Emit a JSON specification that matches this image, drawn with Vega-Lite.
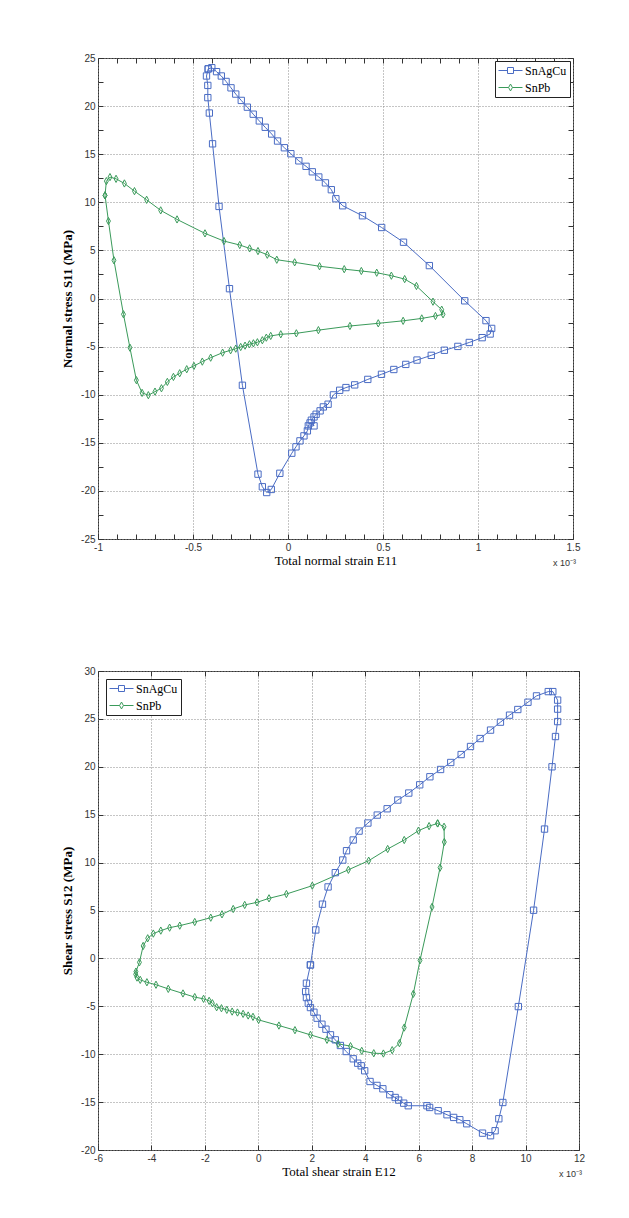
{
  "$schema": "https://vega.github.io/schema/vega-lite/v6.json",
  "background": "white",
  "padding": {"left": 61, "top": 52, "right": 5, "bottom": 5},
  "spacing": 96,
  "config": {
    "view": {"stroke": "#333", "strokeWidth": 1},
    "axis": {
      "labelFont": "Liberation Sans Narrow, Liberation Sans, sans-serif",
      "labelFontSize": 10,
      "labelColor": "#333",
      "labelFlush": false,
      "labelOverlap": false,
      "tickColor": "#333",
      "tickSize": -5,
      "tickWidth": 1,
      "domain": false,
      "titleFont": "Liberation Serif",
      "titleFontSize": 13,
      "titleColor": "black",
      "titleFontWeight": "normal",
      "gridColor": "#8a8a8a",
      "gridDash": [1, 2],
      "gridWidth": 1
    }
  },
  "datasets": {
    "normal": [
      {"s":"SnAgCu","i":1,"x":-0.420,"y":23.87},
      {"s":"SnAgCu","i":2,"x":-0.401,"y":23.99},
      {"s":"SnAgCu","i":3,"x":-0.376,"y":23.58},
      {"s":"SnAgCu","i":4,"x":-0.351,"y":23.13},
      {"s":"SnAgCu","i":5,"x":-0.326,"y":22.56},
      {"s":"SnAgCu","i":6,"x":-0.300,"y":21.90},
      {"s":"SnAgCu","i":7,"x":-0.275,"y":21.25},
      {"s":"SnAgCu","i":8,"x":-0.246,"y":20.59},
      {"s":"SnAgCu","i":9,"x":-0.214,"y":19.89},
      {"s":"SnAgCu","i":10,"x":-0.183,"y":19.16},
      {"s":"SnAgCu","i":11,"x":-0.151,"y":18.46},
      {"s":"SnAgCu","i":12,"x":-0.120,"y":17.80},
      {"s":"SnAgCu","i":13,"x":-0.086,"y":17.10},
      {"s":"SnAgCu","i":14,"x":-0.055,"y":16.37},
      {"s":"SnAgCu","i":15,"x":-0.019,"y":15.67},
      {"s":"SnAgCu","i":16,"x":0.015,"y":15.05},
      {"s":"SnAgCu","i":17,"x":0.057,"y":14.31},
      {"s":"SnAgCu","i":18,"x":0.095,"y":13.74},
      {"s":"SnAgCu","i":19,"x":0.128,"y":13.17},
      {"s":"SnAgCu","i":20,"x":0.162,"y":12.63},
      {"s":"SnAgCu","i":21,"x":0.197,"y":12.02},
      {"s":"SnAgCu","i":22,"x":0.228,"y":11.31},
      {"s":"SnAgCu","i":23,"x":0.252,"y":10.37},
      {"s":"SnAgCu","i":24,"x":0.288,"y":9.64},
      {"s":"SnAgCu","i":25,"x":0.392,"y":8.60},
      {"s":"SnAgCu","i":26,"x":0.493,"y":7.38},
      {"s":"SnAgCu","i":27,"x":0.608,"y":5.85},
      {"s":"SnAgCu","i":28,"x":0.744,"y":3.42},
      {"s":"SnAgCu","i":29,"x":0.930,"y":-0.24},
      {"s":"SnAgCu","i":30,"x":1.042,"y":-2.30},
      {"s":"SnAgCu","i":31,"x":1.072,"y":-3.11},
      {"s":"SnAgCu","i":32,"x":1.064,"y":-3.69},
      {"s":"SnAgCu","i":33,"x":1.022,"y":-4.07},
      {"s":"SnAgCu","i":34,"x":0.954,"y":-4.57},
      {"s":"SnAgCu","i":35,"x":0.894,"y":-4.98},
      {"s":"SnAgCu","i":36,"x":0.823,"y":-5.38},
      {"s":"SnAgCu","i":37,"x":0.754,"y":-5.91},
      {"s":"SnAgCu","i":38,"x":0.679,"y":-6.40},
      {"s":"SnAgCu","i":39,"x":0.620,"y":-6.85},
      {"s":"SnAgCu","i":40,"x":0.557,"y":-7.38},
      {"s":"SnAgCu","i":41,"x":0.492,"y":-7.88},
      {"s":"SnAgCu","i":42,"x":0.420,"y":-8.41},
      {"s":"SnAgCu","i":43,"x":0.351,"y":-8.98},
      {"s":"SnAgCu","i":44,"x":0.305,"y":-9.26},
      {"s":"SnAgCu","i":45,"x":0.272,"y":-9.54},
      {"s":"SnAgCu","i":46,"x":0.239,"y":-10.02},
      {"s":"SnAgCu","i":47,"x":0.211,"y":-10.99},
      {"s":"SnAgCu","i":48,"x":0.186,"y":-11.27},
      {"s":"SnAgCu","i":49,"x":0.169,"y":-11.68},
      {"s":"SnAgCu","i":50,"x":0.148,"y":-12.03},
      {"s":"SnAgCu","i":51,"x":0.137,"y":-12.31},
      {"s":"SnAgCu","i":52,"x":0.123,"y":-12.65},
      {"s":"SnAgCu","i":53,"x":0.137,"y":-13.24},
      {"s":"SnAgCu","i":54,"x":0.116,"y":-12.93},
      {"s":"SnAgCu","i":55,"x":0.107,"y":-13.24},
      {"s":"SnAgCu","i":56,"x":0.102,"y":-13.76},
      {"s":"SnAgCu","i":57,"x":0.084,"y":-14.28},
      {"s":"SnAgCu","i":58,"x":0.063,"y":-14.80},
      {"s":"SnAgCu","i":59,"x":0.042,"y":-15.42},
      {"s":"SnAgCu","i":60,"x":0.020,"y":-16.08},
      {"s":"SnAgCu","i":61,"x":-0.043,"y":-18.17},
      {"s":"SnAgCu","i":62,"x":-0.088,"y":-19.85},
      {"s":"SnAgCu","i":63,"x":-0.112,"y":-20.17},
      {"s":"SnAgCu","i":64,"x":-0.135,"y":-19.57},
      {"s":"SnAgCu","i":65,"x":-0.158,"y":-18.26},
      {"s":"SnAgCu","i":66,"x":-0.240,"y":-9.02},
      {"s":"SnAgCu","i":67,"x":-0.308,"y":1.02},
      {"s":"SnAgCu","i":68,"x":-0.363,"y":9.57},
      {"s":"SnAgCu","i":69,"x":-0.397,"y":16.08},
      {"s":"SnAgCu","i":70,"x":-0.414,"y":19.28},
      {"s":"SnAgCu","i":71,"x":-0.422,"y":20.88},
      {"s":"SnAgCu","i":72,"x":-0.422,"y":22.15},
      {"s":"SnAgCu","i":73,"x":-0.429,"y":23.13},
      {"s":"SnAgCu","i":74,"x":-0.420,"y":23.87},
      {"s":"SnPb","i":1,"x":-0.963,"y":10.72},
      {"s":"SnPb","i":2,"x":-0.956,"y":12.20},
      {"s":"SnPb","i":3,"x":-0.937,"y":12.62},
      {"s":"SnPb","i":4,"x":-0.905,"y":12.44},
      {"s":"SnPb","i":5,"x":-0.861,"y":11.96},
      {"s":"SnPb","i":6,"x":-0.808,"y":11.16},
      {"s":"SnPb","i":7,"x":-0.744,"y":10.26},
      {"s":"SnPb","i":8,"x":-0.670,"y":9.16},
      {"s":"SnPb","i":9,"x":-0.584,"y":8.22},
      {"s":"SnPb","i":10,"x":-0.437,"y":6.77},
      {"s":"SnPb","i":11,"x":-0.337,"y":5.97},
      {"s":"SnPb","i":12,"x":-0.254,"y":5.56},
      {"s":"SnPb","i":13,"x":-0.202,"y":5.21},
      {"s":"SnPb","i":14,"x":-0.158,"y":4.93},
      {"s":"SnPb","i":15,"x":-0.109,"y":4.55},
      {"s":"SnPb","i":16,"x":-0.059,"y":4.03},
      {"s":"SnPb","i":17,"x":0.035,"y":3.76},
      {"s":"SnPb","i":18,"x":0.166,"y":3.35},
      {"s":"SnPb","i":19,"x":0.296,"y":3.05},
      {"s":"SnPb","i":20,"x":0.386,"y":2.86},
      {"s":"SnPb","i":21,"x":0.467,"y":2.68},
      {"s":"SnPb","i":22,"x":0.544,"y":2.37},
      {"s":"SnPb","i":23,"x":0.614,"y":2.02},
      {"s":"SnPb","i":24,"x":0.676,"y":1.30},
      {"s":"SnPb","i":25,"x":0.763,"y":-0.33},
      {"s":"SnPb","i":26,"x":0.809,"y":-1.16},
      {"s":"SnPb","i":27,"x":0.816,"y":-1.64},
      {"s":"SnPb","i":28,"x":0.776,"y":-1.82},
      {"s":"SnPb","i":29,"x":0.704,"y":-2.07},
      {"s":"SnPb","i":30,"x":0.606,"y":-2.32},
      {"s":"SnPb","i":31,"x":0.475,"y":-2.58},
      {"s":"SnPb","i":32,"x":0.326,"y":-2.86},
      {"s":"SnPb","i":33,"x":0.160,"y":-3.29},
      {"s":"SnPb","i":34,"x":0.044,"y":-3.62},
      {"s":"SnPb","i":35,"x":-0.038,"y":-3.72},
      {"s":"SnPb","i":36,"x":-0.091,"y":-3.89},
      {"s":"SnPb","i":37,"x":-0.114,"y":-4.07},
      {"s":"SnPb","i":38,"x":-0.135,"y":-4.34},
      {"s":"SnPb","i":39,"x":-0.161,"y":-4.55},
      {"s":"SnPb","i":40,"x":-0.182,"y":-4.66},
      {"s":"SnPb","i":41,"x":-0.203,"y":-4.76},
      {"s":"SnPb","i":42,"x":-0.226,"y":-4.90},
      {"s":"SnPb","i":43,"x":-0.249,"y":-5.04},
      {"s":"SnPb","i":44,"x":-0.275,"y":-5.21},
      {"s":"SnPb","i":45,"x":-0.302,"y":-5.38},
      {"s":"SnPb","i":46,"x":-0.344,"y":-5.63},
      {"s":"SnPb","i":47,"x":-0.407,"y":-6.15},
      {"s":"SnPb","i":48,"x":-0.451,"y":-6.56},
      {"s":"SnPb","i":49,"x":-0.495,"y":-7.01},
      {"s":"SnPb","i":50,"x":-0.533,"y":-7.35},
      {"s":"SnPb","i":51,"x":-0.570,"y":-7.77},
      {"s":"SnPb","i":52,"x":-0.603,"y":-8.15},
      {"s":"SnPb","i":53,"x":-0.635,"y":-8.67},
      {"s":"SnPb","i":54,"x":-0.666,"y":-9.33},
      {"s":"SnPb","i":55,"x":-0.700,"y":-9.68},
      {"s":"SnPb","i":56,"x":-0.735,"y":-10.05},
      {"s":"SnPb","i":57,"x":-0.768,"y":-9.81},
      {"s":"SnPb","i":58,"x":-0.798,"y":-8.49},
      {"s":"SnPb","i":59,"x":-0.832,"y":-5.11},
      {"s":"SnPb","i":60,"x":-0.866,"y":-1.64},
      {"s":"SnPb","i":61,"x":-0.916,"y":3.97},
      {"s":"SnPb","i":62,"x":-0.945,"y":8.05},
      {"s":"SnPb","i":63,"x":-0.963,"y":10.72}
    ],
    "shear": [
      {"s":"SnAgCu","i":1,"x":1.95,"y":-0.68},
      {"s":"SnAgCu","i":2,"x":2.15,"y":2.97},
      {"s":"SnAgCu","i":3,"x":2.40,"y":5.66},
      {"s":"SnAgCu","i":4,"x":2.61,"y":7.46},
      {"s":"SnAgCu","i":5,"x":2.88,"y":8.95},
      {"s":"SnAgCu","i":6,"x":3.16,"y":10.27},
      {"s":"SnAgCu","i":7,"x":3.30,"y":11.24},
      {"s":"SnAgCu","i":8,"x":3.55,"y":12.36},
      {"s":"SnAgCu","i":9,"x":3.77,"y":13.29},
      {"s":"SnAgCu","i":10,"x":4.10,"y":14.13},
      {"s":"SnAgCu","i":11,"x":4.45,"y":14.96},
      {"s":"SnAgCu","i":12,"x":4.82,"y":15.62},
      {"s":"SnAgCu","i":13,"x":5.22,"y":16.53},
      {"s":"SnAgCu","i":14,"x":5.63,"y":17.26},
      {"s":"SnAgCu","i":15,"x":6.04,"y":18.12},
      {"s":"SnAgCu","i":16,"x":6.42,"y":18.96},
      {"s":"SnAgCu","i":17,"x":6.82,"y":19.72},
      {"s":"SnAgCu","i":18,"x":7.20,"y":20.45},
      {"s":"SnAgCu","i":19,"x":7.59,"y":21.28},
      {"s":"SnAgCu","i":20,"x":7.94,"y":22.12},
      {"s":"SnAgCu","i":21,"x":8.30,"y":22.95},
      {"s":"SnAgCu","i":22,"x":8.69,"y":23.83},
      {"s":"SnAgCu","i":23,"x":9.06,"y":24.66},
      {"s":"SnAgCu","i":24,"x":9.40,"y":25.39},
      {"s":"SnAgCu","i":25,"x":9.71,"y":25.98},
      {"s":"SnAgCu","i":26,"x":10.09,"y":26.74},
      {"s":"SnAgCu","i":27,"x":10.41,"y":27.40},
      {"s":"SnAgCu","i":28,"x":10.85,"y":27.85},
      {"s":"SnAgCu","i":29,"x":11.02,"y":27.85},
      {"s":"SnAgCu","i":30,"x":11.20,"y":26.96},
      {"s":"SnAgCu","i":31,"x":11.20,"y":26.02},
      {"s":"SnAgCu","i":32,"x":11.20,"y":24.72},
      {"s":"SnAgCu","i":33,"x":11.12,"y":23.16},
      {"s":"SnAgCu","i":34,"x":10.99,"y":20.00},
      {"s":"SnAgCu","i":35,"x":10.71,"y":13.50},
      {"s":"SnAgCu","i":36,"x":10.30,"y":5.03},
      {"s":"SnAgCu","i":37,"x":9.73,"y":-5.03},
      {"s":"SnAgCu","i":38,"x":9.15,"y":-15.04},
      {"s":"SnAgCu","i":39,"x":9.00,"y":-16.74},
      {"s":"SnAgCu","i":40,"x":8.86,"y":-17.99},
      {"s":"SnAgCu","i":41,"x":8.69,"y":-18.51},
      {"s":"SnAgCu","i":42,"x":8.39,"y":-18.24},
      {"s":"SnAgCu","i":43,"x":7.80,"y":-17.26},
      {"s":"SnAgCu","i":44,"x":7.54,"y":-16.84},
      {"s":"SnAgCu","i":45,"x":7.31,"y":-16.60},
      {"s":"SnAgCu","i":46,"x":7.06,"y":-16.32},
      {"s":"SnAgCu","i":47,"x":6.73,"y":-15.90},
      {"s":"SnAgCu","i":48,"x":6.41,"y":-15.56},
      {"s":"SnAgCu","i":49,"x":6.31,"y":-15.38},
      {"s":"SnAgCu","i":50,"x":5.61,"y":-15.38},
      {"s":"SnAgCu","i":51,"x":5.44,"y":-15.11},
      {"s":"SnAgCu","i":52,"x":5.25,"y":-14.79},
      {"s":"SnAgCu","i":53,"x":5.12,"y":-14.52},
      {"s":"SnAgCu","i":54,"x":4.92,"y":-14.23},
      {"s":"SnAgCu","i":55,"x":4.66,"y":-13.61},
      {"s":"SnAgCu","i":56,"x":4.44,"y":-13.26},
      {"s":"SnAgCu","i":57,"x":4.18,"y":-12.85},
      {"s":"SnAgCu","i":58,"x":3.98,"y":-11.73},
      {"s":"SnAgCu","i":59,"x":3.85,"y":-11.21},
      {"s":"SnAgCu","i":60,"x":3.72,"y":-10.94},
      {"s":"SnAgCu","i":61,"x":3.55,"y":-10.48},
      {"s":"SnAgCu","i":62,"x":3.29,"y":-9.72},
      {"s":"SnAgCu","i":63,"x":3.07,"y":-9.09},
      {"s":"SnAgCu","i":64,"x":2.88,"y":-8.50},
      {"s":"SnAgCu","i":65,"x":2.70,"y":-7.98},
      {"s":"SnAgCu","i":66,"x":2.53,"y":-7.39},
      {"s":"SnAgCu","i":67,"x":2.38,"y":-6.87},
      {"s":"SnAgCu","i":68,"x":2.20,"y":-6.24},
      {"s":"SnAgCu","i":69,"x":2.08,"y":-5.62},
      {"s":"SnAgCu","i":70,"x":1.95,"y":-5.13},
      {"s":"SnAgCu","i":71,"x":1.87,"y":-4.68},
      {"s":"SnAgCu","i":72,"x":1.80,"y":-4.09},
      {"s":"SnAgCu","i":73,"x":1.77,"y":-3.46},
      {"s":"SnAgCu","i":74,"x":1.80,"y":-2.59},
      {"s":"SnAgCu","i":75,"x":1.95,"y":-0.68},
      {"s":"SnPb","i":1,"x":6.71,"y":14.09},
      {"s":"SnPb","i":2,"x":6.39,"y":13.81},
      {"s":"SnPb","i":3,"x":5.99,"y":13.33},
      {"s":"SnPb","i":4,"x":5.46,"y":12.36},
      {"s":"SnPb","i":5,"x":4.84,"y":11.42},
      {"s":"SnPb","i":6,"x":4.13,"y":10.20},
      {"s":"SnPb","i":7,"x":3.37,"y":9.25},
      {"s":"SnPb","i":8,"x":2.02,"y":7.59},
      {"s":"SnPb","i":9,"x":1.05,"y":6.72},
      {"s":"SnPb","i":10,"x":0.40,"y":6.27},
      {"s":"SnPb","i":11,"x":-0.05,"y":5.85},
      {"s":"SnPb","i":12,"x":-0.51,"y":5.58},
      {"s":"SnPb","i":13,"x":-0.94,"y":5.16},
      {"s":"SnPb","i":14,"x":-1.36,"y":4.60},
      {"s":"SnPb","i":15,"x":-1.78,"y":4.25},
      {"s":"SnPb","i":16,"x":-2.38,"y":3.80},
      {"s":"SnPb","i":17,"x":-2.94,"y":3.42},
      {"s":"SnPb","i":18,"x":-3.32,"y":3.21},
      {"s":"SnPb","i":19,"x":-3.65,"y":2.90},
      {"s":"SnPb","i":20,"x":-3.93,"y":2.59},
      {"s":"SnPb","i":21,"x":-4.14,"y":2.10},
      {"s":"SnPb","i":22,"x":-4.31,"y":1.30},
      {"s":"SnPb","i":23,"x":-4.45,"y":-0.41},
      {"s":"SnPb","i":24,"x":-4.58,"y":-1.38},
      {"s":"SnPb","i":25,"x":-4.59,"y":-1.66},
      {"s":"SnPb","i":26,"x":-4.54,"y":-2.00},
      {"s":"SnPb","i":27,"x":-4.42,"y":-2.24},
      {"s":"SnPb","i":28,"x":-4.17,"y":-2.49},
      {"s":"SnPb","i":29,"x":-3.83,"y":-2.75},
      {"s":"SnPb","i":30,"x":-3.37,"y":-3.18},
      {"s":"SnPb","i":31,"x":-2.82,"y":-3.66},
      {"s":"SnPb","i":32,"x":-2.38,"y":-4.04},
      {"s":"SnPb","i":33,"x":-2.05,"y":-4.22},
      {"s":"SnPb","i":34,"x":-1.84,"y":-4.43},
      {"s":"SnPb","i":35,"x":-1.72,"y":-4.68},
      {"s":"SnPb","i":36,"x":-1.56,"y":-5.10},
      {"s":"SnPb","i":37,"x":-1.38,"y":-5.20},
      {"s":"SnPb","i":38,"x":-1.18,"y":-5.37},
      {"s":"SnPb","i":39,"x":-0.98,"y":-5.55},
      {"s":"SnPb","i":40,"x":-0.78,"y":-5.65},
      {"s":"SnPb","i":41,"x":-0.57,"y":-5.79},
      {"s":"SnPb","i":42,"x":-0.38,"y":-5.96},
      {"s":"SnPb","i":43,"x":-0.20,"y":-6.10},
      {"s":"SnPb","i":44,"x":0.01,"y":-6.42},
      {"s":"SnPb","i":45,"x":0.77,"y":-7.01},
      {"s":"SnPb","i":46,"x":1.37,"y":-7.49},
      {"s":"SnPb","i":47,"x":1.95,"y":-7.98},
      {"s":"SnPb","i":48,"x":2.57,"y":-8.50},
      {"s":"SnPb","i":49,"x":2.99,"y":-8.92},
      {"s":"SnPb","i":50,"x":3.45,"y":-9.16},
      {"s":"SnPb","i":51,"x":3.87,"y":-9.65},
      {"s":"SnPb","i":52,"x":4.32,"y":-9.90},
      {"s":"SnPb","i":53,"x":4.68,"y":-9.93},
      {"s":"SnPb","i":54,"x":5.01,"y":-9.58},
      {"s":"SnPb","i":55,"x":5.28,"y":-8.85},
      {"s":"SnPb","i":56,"x":5.46,"y":-7.22},
      {"s":"SnPb","i":57,"x":5.80,"y":-3.70},
      {"s":"SnPb","i":58,"x":6.05,"y":-0.20},
      {"s":"SnPb","i":59,"x":6.50,"y":5.37},
      {"s":"SnPb","i":60,"x":6.80,"y":9.47},
      {"s":"SnPb","i":61,"x":6.96,"y":12.15},
      {"s":"SnPb","i":62,"x":6.95,"y":13.74},
      {"s":"SnPb","i":63,"x":6.71,"y":14.09}
    ]
  },
  "vconcat": [
    {
      "width": 475,
      "height": 481,
      "data": {"name": "normal"},
      "resolve": {"axis": {"x": "independent", "y": "independent"}},
      "layer": [
        {
          "mark": {"type": "line", "strokeWidth": 1},
          "encoding": {
            "x": {"field": "x", "type": "quantitative", "scale": {"domain": [-1, 1.5], "nice": false, "zero": false},
              "axis": {"orient": "bottom", "title": "Total normal strain E11", "labelPadding": 8, "titlePadding": 2,
                "values": [-1,-0.9,-0.8,-0.7,-0.6,-0.5,-0.4,-0.3,-0.2,-0.1,0,0.1,0.2,0.3,0.4,0.5,0.6,0.7,0.8,0.9,1,1.1,1.2,1.3,1.4,1.5],
                "labelExpr": "abs(datum.value*2-round(datum.value*2))<0.001 ? '' + round(datum.value*2)/2 : ''",
                "gridOpacity": {"condition": {"test": "abs(datum.value*2-round(datum.value*2))<0.001", "value": 1}, "value": 0}}},
            "y": {"field": "y", "type": "quantitative", "scale": {"domain": [-25, 25], "nice": false, "zero": false},
              "axis": {"orient": "left", "title": "Normal stress S11 (MPa)", "titleFontWeight": "bold", "labelPadding": 8, "titlePadding": 6,
                "values": [-25,-22.5,-20,-17.5,-15,-12.5,-10,-7.5,-5,-2.5,0,2.5,5,7.5,10,12.5,15,17.5,20,22.5,25],
                "labelExpr": "datum.value % 5 == 0 ? '' + datum.value : ''",
                "gridOpacity": {"condition": {"test": "datum.value % 5 == 0", "value": 1}, "value": 0}}},
            "color": {"field": "s", "type": "nominal", "scale": {"domain": ["SnAgCu", "SnPb"], "range": ["#4a6cc4", "#3a9a5a"]},
              "legend": {"title": null, "orient": "top-right", "offset": 3, "padding": 3, "fillColor": "white", "strokeColor": "#222",
                "labelFont": "Liberation Serif", "labelFontSize": 12, "labelColor": "black", "symbolSize": 144, "symbolStrokeWidth": 1,
                "symbolOffset": 6, "labelOffset": 8, "rowPadding": 4,
                "encode": {"symbols": {"update": {
                  "shape": {"signal": "datum.value === 'SnAgCu' ? 'M-2,0H-0.5M0.5,0H2M-0.5,-0.5H0.5V0.5H-0.5Z' : 'M-2,0H-0.32M0.32,0H2M0,-0.58L0.32,0L0,0.58L-0.32,0Z'"},
                  "fill": {"value": "transparent"}}}}}},
            "order": {"field": "i", "type": "quantitative"}
          }
        },
        {
          "mark": {"type": "point", "filled": false, "size": 40, "strokeWidth": 1, "opacity": 1},
          "encoding": {
            "x": {"field": "x", "type": "quantitative", "scale": {"domain": [-1, 1.5], "nice": false, "zero": false},
              "axis": {"orient": "top", "title": null, "labels": false, "grid": false,
                "values": [-1,-0.9,-0.8,-0.7,-0.6,-0.5,-0.4,-0.3,-0.2,-0.1,0,0.1,0.2,0.3,0.4,0.5,0.6,0.7,0.8,0.9,1,1.1,1.2,1.3,1.4,1.5]}},
            "y": {"field": "y", "type": "quantitative", "scale": {"domain": [-25, 25], "nice": false, "zero": false},
              "axis": {"orient": "right", "title": null, "labels": false, "grid": false,
                "values": [-25,-22.5,-20,-17.5,-15,-12.5,-10,-7.5,-5,-2.5,0,2.5,5,7.5,10,12.5,15,17.5,20,22.5,25]}},
            "color": {"field": "s", "type": "nominal", "scale": {"domain": ["SnAgCu", "SnPb"], "range": ["#4a6cc4", "#3a9a5a"]}, "legend": null},
            "shape": {"field": "s", "type": "nominal", "scale": {"domain": ["SnAgCu", "SnPb"], "range": ["square", "M0,-1.15L0.62,0L0,1.15L-0.62,0Z"]}, "legend": null}
          }
        },
        {
          "data": {"values": [{"label": "x 10⁻³"}]},
          "mark": {"type": "text", "align": "right", "baseline": "top", "dx": 3, "dy": 20, "font": "Liberation Sans Narrow, Liberation Sans, sans-serif", "fontSize": 9, "color": "#333"},
          "encoding": {
            "x": {"datum": 1.5, "type": "quantitative", "axis": null},
            "y": {"datum": -25, "type": "quantitative", "axis": null},
            "text": {"field": "label"}
          }
        }
      ]
    },
    {
      "width": 481,
      "height": 479,
      "data": {"name": "shear"},
      "resolve": {"axis": {"x": "independent", "y": "independent"}},
      "layer": [
        {
          "mark": {"type": "line", "strokeWidth": 1},
          "encoding": {
            "x": {"field": "x", "type": "quantitative", "scale": {"domain": [-6, 12], "nice": false, "zero": false},
              "axis": {"orient": "bottom", "title": "Total shear strain E12", "labelPadding": 8, "titlePadding": 2,
                "values": [-6,-4,-2,0,2,4,6,8,10,12], "labelExpr": "'' + datum.value"}},
            "y": {"field": "y", "type": "quantitative", "scale": {"domain": [-20, 30], "nice": false, "zero": false},
              "axis": {"orient": "left", "title": "Shear stress S12 (MPa)", "titleFontWeight": "bold", "labelPadding": 8, "titlePadding": 6,
                "values": [-20,-15,-10,-5,0,5,10,15,20,25,30], "labelExpr": "'' + datum.value"}},
            "color": {"field": "s", "type": "nominal", "scale": {"domain": ["SnAgCu", "SnPb"], "range": ["#4a6cc4", "#3a9a5a"]},
              "legend": {"title": null, "orient": "top-left", "offset": 8, "padding": 3, "fillColor": "white", "strokeColor": "#222",
                "labelFont": "Liberation Serif", "labelFontSize": 12, "labelColor": "black", "symbolSize": 144, "symbolStrokeWidth": 1,
                "symbolOffset": 6, "labelOffset": 8, "rowPadding": 4,
                "encode": {"symbols": {"update": {
                  "shape": {"signal": "datum.value === 'SnAgCu' ? 'M-2,0H-0.5M0.5,0H2M-0.5,-0.5H0.5V0.5H-0.5Z' : 'M-2,0H-0.32M0.32,0H2M0,-0.58L0.32,0L0,0.58L-0.32,0Z'"},
                  "fill": {"value": "transparent"}}}}}},
            "order": {"field": "i", "type": "quantitative"}
          }
        },
        {
          "mark": {"type": "point", "filled": false, "size": 40, "strokeWidth": 1, "opacity": 1},
          "encoding": {
            "x": {"field": "x", "type": "quantitative", "scale": {"domain": [-6, 12], "nice": false, "zero": false},
              "axis": {"orient": "top", "title": null, "labels": false, "grid": false, "values": [-6,-4,-2,0,2,4,6,8,10,12]}},
            "y": {"field": "y", "type": "quantitative", "scale": {"domain": [-20, 30], "nice": false, "zero": false},
              "axis": {"orient": "right", "title": null, "labels": false, "grid": false, "values": [-20,-15,-10,-5,0,5,10,15,20,25,30]}},
            "color": {"field": "s", "type": "nominal", "scale": {"domain": ["SnAgCu", "SnPb"], "range": ["#4a6cc4", "#3a9a5a"]}, "legend": null},
            "shape": {"field": "s", "type": "nominal", "scale": {"domain": ["SnAgCu", "SnPb"], "range": ["square", "M0,-1.15L0.62,0L0,1.15L-0.62,0Z"]}, "legend": null}
          }
        },
        {
          "data": {"values": [{"label": "x 10⁻³"}]},
          "mark": {"type": "text", "align": "right", "baseline": "top", "dx": 3, "dy": 20, "font": "Liberation Sans Narrow, Liberation Sans, sans-serif", "fontSize": 9, "color": "#333"},
          "encoding": {
            "x": {"datum": 12, "type": "quantitative", "axis": null},
            "y": {"datum": -20, "type": "quantitative", "axis": null},
            "text": {"field": "label"}
          }
        }
      ]
    }
  ]
}
